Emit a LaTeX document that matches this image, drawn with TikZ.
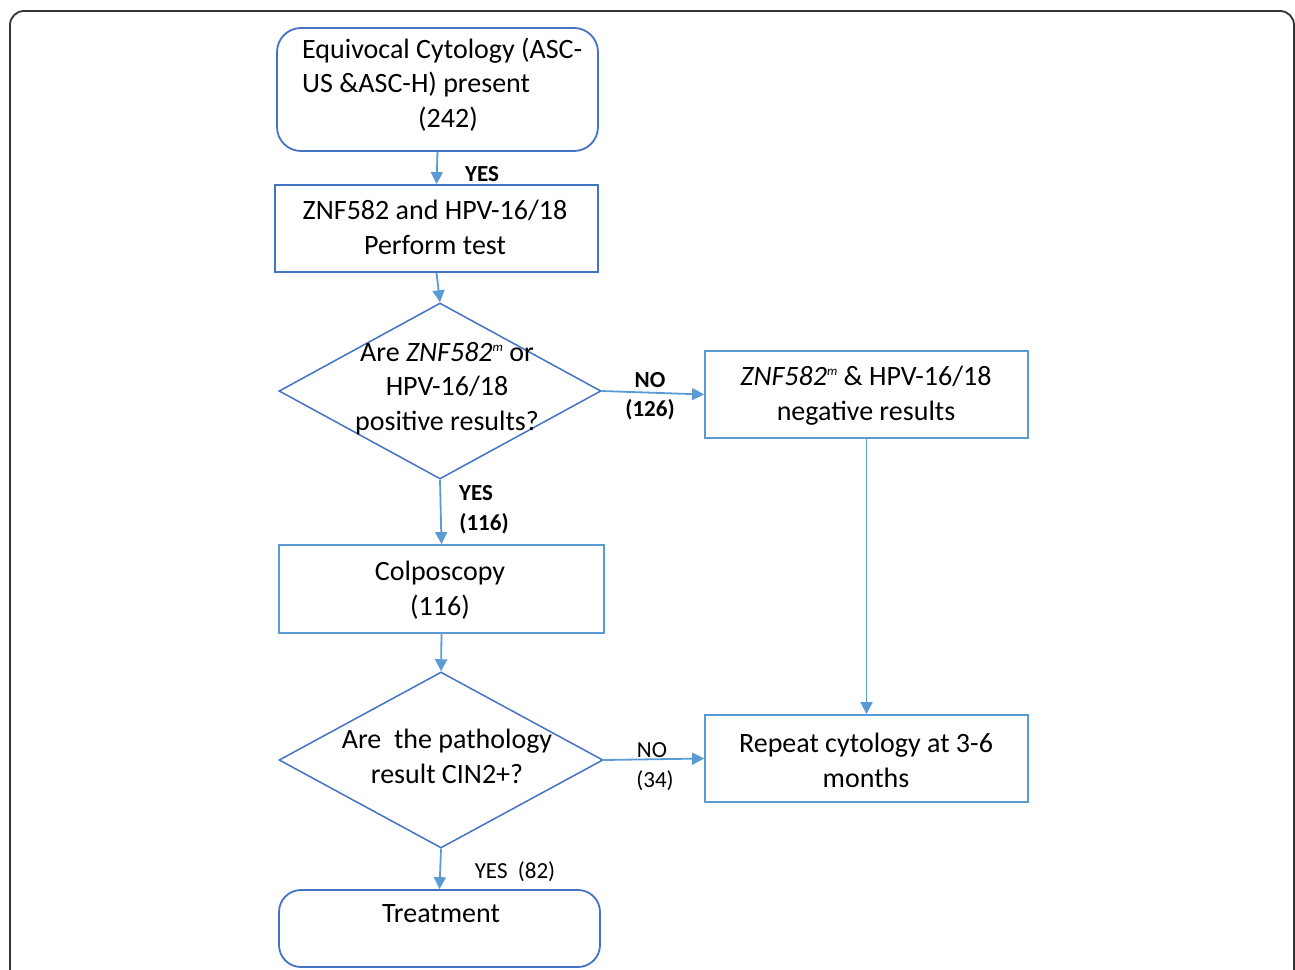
\documentclass[tikz,border=0pt]{standalone}
\usepackage{fontspec}
\setmainfont{Carlito}
\usetikzlibrary{shapes.geometric,arrows.meta}
\definecolor{dblue}{HTML}{4472C4}
\definecolor{lblue}{HTML}{5B9BD5}
\definecolor{framec}{HTML}{333333}
\newcommand\supm{\raisebox{10pt}{\fontsize{13}{13}\selectfont\itshape m}}
\begin{document}
\begin{tikzpicture}[x=1pt,y=-1pt,
  box/.style={draw=lblue,line width=1.8pt,inner sep=0pt},
  rbox/.style={draw=dblue,line width=1.8pt,rounded corners=24pt,inner sep=0pt},
  dia/.style={diamond,draw=dblue,line width=1.5pt,inner sep=0pt},
  txt/.style={font=\fontsize{28}{34.5}\selectfont,align=center,inner sep=0pt,anchor=base},
  lab/.style={font=\fontsize{23}{29}\selectfont,inner sep=0pt,anchor=base},
  blab/.style={font=\fontsize{23}{29}\selectfont\bfseries,inner sep=0pt,anchor=base},
  arr/.style={draw=lblue,line width=1.8pt,-{Triangle[length=12pt,width=12pt]}}]
\useasboundingbox (0,0) rectangle (1295,969);
% outer frame
\draw[framec,line width=1.8pt,rounded corners=14pt] (10,975) -- (10,11) -- (1294,11) -- (1294,975);
% shapes
\node[rbox,minimum width=321pt,minimum height=123pt] (b1) at (437.5,89.5) {};
\node[box,draw=dblue,minimum width=323pt,minimum height=87pt] (b2) at (436.5,228.5) {};
\node[dia,minimum width=322pt,minimum height=176pt] (d1) at (440,391) {};
\node[box,minimum width=323pt,minimum height=87pt] (b3) at (866.5,394.5) {};
\node[box,minimum width=325pt,minimum height=88pt] (b4) at (441.5,589) {};
\node[dia,minimum width=324pt,minimum height=176pt] (d2) at (441,760) {};
\node[box,minimum width=323pt,minimum height=87pt] (b5) at (866.5,758.5) {};
\node[rbox,rounded corners=22pt,minimum width=321pt,minimum height=77pt] (b6) at (439.5,928.5) {};
% texts (anchor base = baseline of the last line)
\node[txt,align=left,anchor=base west] (t1) at (302,127) {Equivocal Cytology (ASC-\\US \&ASC-H) present\\\hspace*{116pt}(242)};
\node[txt] (t2) at (435,254) {ZNF582 and HPV-16/18\\Perform test};
\node[txt] (t3) at (447,430) {Are \textit{ZNF582}\supm{} or\\HPV-16/18\\positive results?};
\node[txt] (t4) at (866,420) {\textit{ZNF582}\supm{} \& HPV-16/18\\negative results};
\node[txt] (t5) at (440,615) {Colposcopy\\(116)};
\node[txt] (t6) at (447,783) {Are\ \ the pathology\\result CIN2+?};
\node[txt] (t7) at (866,787) {Repeat cytology at 3-6\\months};
\node[txt] (t8) at (441,922) {Treatment};
% connectors
\draw[arr] (b1.south) -- (b2.north);
\draw[arr] (b2.south) -- (d1.north);
\draw[arr] (d1.south) -- (b4.north);
\draw[arr] (b4.south) -- (d2.north);
\draw[arr] (d2.south) -- (b6.north);
\draw[arr] (d1.east) -- (b3.west);
\draw[arr] (b3.south) -- (b5.north);
\draw[arr] (d2.east) -- (b5.west);
% labels
\node[blab] (l1) at (482,181.5) {YES};
\node[blab] (l2) at (650,387.5) {NO};
\node[blab] (l3) at (650,416.5) {(126)};
\node[blab] (l4) at (476,500.5) {YES};
\node[blab] (l5) at (484,530.5) {(116)};
\node[lab] (l6) at (652,757.5) {NO};
\node[lab] (l7) at (655,787.5) {(34)};
\node[lab] (l8) at (515,878.5) {YES\ \ (82)};
\end{tikzpicture}
\end{document}
